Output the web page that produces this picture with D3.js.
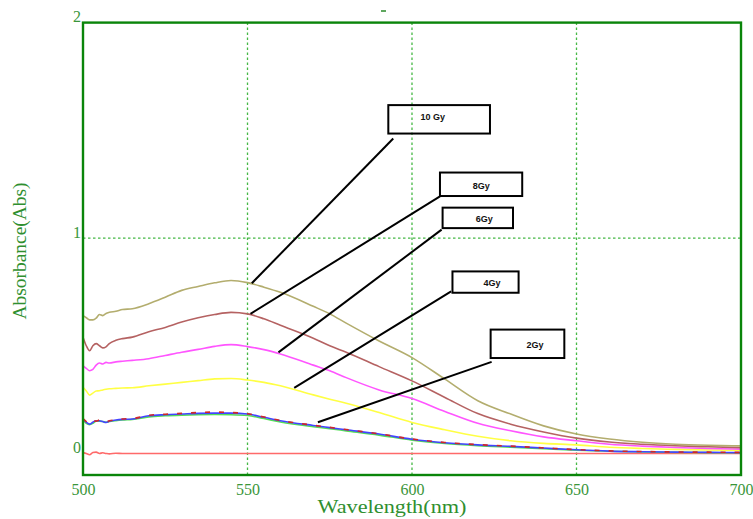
<!DOCTYPE html>
<html>
<head>
<meta charset="utf-8">
<script src="https://cdn.jsdelivr.net/npm/d3@7"></script>
<style>
  html, body { margin: 0; padding: 0; background: #ffffff; }
  svg { display: block; }
</style>
</head>
<body>
<svg id="chart" width="753" height="519"></svg>
<script>
// ---------------- DATA ----------------
const wavelengths = [500,501,502,503,504,505,506,507,508,510,512,515,520,525,530,535,540,545,550,555,560,570,575,580,590,600,610,620,630,640,650,660,670,680,690,700];

const dose10Gy = [0.640,0.630,0.620,0.620,0.628,0.645,0.640,0.650,0.655,0.660,0.668,0.672,0.695,0.725,0.757,0.775,0.792,0.803,0.793,0.772,0.748,0.683,0.648,0.605,0.522,0.445,0.345,0.245,0.183,0.128,0.090,0.067,0.052,0.043,0.038,0.035];
const dose8Gy  = [0.540,0.500,0.477,0.500,0.510,0.500,0.490,0.495,0.510,0.525,0.533,0.540,0.565,0.585,0.610,0.630,0.645,0.655,0.648,0.625,0.595,0.535,0.500,0.470,0.403,0.337,0.260,0.185,0.136,0.100,0.071,0.053,0.043,0.036,0.031,0.027];
const dose6Gy  = [0.407,0.395,0.384,0.390,0.410,0.420,0.415,0.423,0.420,0.425,0.428,0.432,0.440,0.455,0.470,0.483,0.497,0.505,0.496,0.482,0.462,0.410,0.384,0.352,0.295,0.255,0.195,0.140,0.105,0.077,0.059,0.043,0.034,0.028,0.023,0.020];
const dose4Gy  = [0.307,0.290,0.271,0.280,0.290,0.291,0.295,0.298,0.300,0.302,0.304,0.305,0.314,0.322,0.330,0.338,0.346,0.348,0.341,0.330,0.314,0.272,0.252,0.233,0.190,0.144,0.110,0.080,0.059,0.047,0.040,0.029,0.023,0.019,0.016,0.015];
const dose2GyBlue  = [0.160,0.145,0.136,0.145,0.152,0.152,0.148,0.144,0.150,0.155,0.158,0.160,0.175,0.180,0.183,0.186,0.187,0.187,0.183,0.168,0.152,0.130,0.120,0.110,0.090,0.066,0.050,0.040,0.033,0.025,0.017,0.011,0.008,0.006,0.005,0.004];
const dose2GyGreen = [0.158,0.140,0.134,0.140,0.150,0.150,0.148,0.145,0.148,0.152,0.155,0.158,0.170,0.175,0.178,0.180,0.181,0.180,0.176,0.162,0.146,0.124,0.115,0.105,0.085,0.062,0.046,0.036,0.029,0.022,0.015,0.010,0.007,0.005,0.004,0.003];
const dose2GyRed   = [0.162,0.148,0.138,0.150,0.150,0.155,0.150,0.146,0.152,0.156,0.160,0.162,0.177,0.182,0.186,0.190,0.192,0.190,0.184,0.169,0.153,0.131,0.121,0.111,0.091,0.067,0.051,0.041,0.034,0.026,0.018,0.012,0.009,0.007,0.006,0.005];
const dose0Gy  = [0.004,0.000,-0.006,0.004,0.006,0.000,0.003,0.000,-0.002,0.001,0.000,0.000,0.000,0.000,0.000,0.000,0.000,0.000,0.000,0.000,0.000,0.000,0.000,0.000,0.000,0.000,0.000,0.000,0.000,0.000,0.000,0.000,0.000,0.000,0.000,0.000];

const xTicks = [500, 550, 600, 650, 700];
const yTicks = [0, 1, 2];
const xGrid = [550, 600, 650];
const yGrid = [1];

// annotation labels: box corners and leader ends in data units
const labelTexts = ["10 Gy", "8Gy", "6Gy", "4Gy", "2Gy"];

// ---------------- LAYOUT ----------------
const svg = d3.select("#chart");
const x = d3.scaleLinear().domain([500, 700]).range([83, 741]);
const y = d3.scaleLinear().domain([-0.1, 2]).range([475, 22.6]);

const series = [
  { values: dose0Gy,      color: "#ff6a6a", dash: null },
  { values: dose2GyGreen, color: "#55e055", dash: null },
  { values: dose2GyBlue,  color: "#4444ff", dash: null },
  { values: dose2GyRed,   color: "#d02828", dash: "5,9" },
  { values: dose4Gy,      color: "#ffff44", dash: null },
  { values: dose6Gy,      color: "#ff55ff", dash: null },
  { values: dose8Gy,      color: "#b56262", dash: null },
  { values: dose10Gy,     color: "#b3ad6e", dash: null }
];

const annotations = [
  { box: [592.8, 623.7, 1.617, 1.485], text: [602.6, 1.547], from: [594.3, 1.462], to: [551.3, 0.790] },
  { box: [608.5, 633.5, 1.304, 1.195], text: [618.5, 1.228], from: [608.5, 1.193], to: [550.9, 0.648] },
  { box: [609.3, 630.7, 1.141, 1.046], text: [619.4, 1.075], from: [609.0, 1.039], to: [559.4, 0.469] },
  { box: [612.3, 632.4, 0.845, 0.746], text: [621.7, 0.778], from: [611.9, 0.752], to: [564.2, 0.304] },
  { box: [623.9, 646.3, 0.575, 0.443], text: [634.8, 0.489], from: [624.2, 0.425], to: [571.4, 0.145] }
];

const gridColor = "#45b845";
const frameColor = "#0a850a";
const labelColor = "#3a963a";

// grid
svg.append("g").selectAll("line").data(xGrid).join("line")
  .attr("x1", d => x(d)).attr("x2", d => x(d))
  .attr("y1", y(2)).attr("y2", y(-0.1))
  .attr("stroke", gridColor).attr("stroke-width", 1.3)
  .attr("stroke-dasharray", "2.5,2.5");
svg.append("g").selectAll("line").data(yGrid).join("line")
  .attr("x1", x(500)).attr("x2", x(700))
  .attr("y1", d => y(d)).attr("y2", d => y(d))
  .attr("stroke", gridColor).attr("stroke-width", 1.3)
  .attr("stroke-dasharray", "2.5,2.5");

// lines
const line = d3.line()
  .x((d, i) => x(wavelengths[i]))
  .y(d => y(d))
  .curve(d3.curveMonotoneX);

svg.append("g").selectAll("path").data(series).join("path")
  .attr("d", d => line(d.values))
  .attr("fill", "none")
  .attr("stroke", d => d.color)
  .attr("stroke-width", 1.6)
  .attr("stroke-dasharray", d => d.dash);

// frame
svg.append("rect")
  .attr("x", x(500)).attr("y", y(2))
  .attr("width", x(700) - x(500)).attr("height", y(-0.1) - y(2))
  .attr("fill", "none").attr("stroke", frameColor).attr("stroke-width", 2.4);

// axes
const xAxis = svg.append("g")
  .attr("transform", `translate(0,${y(-0.1) + 3})`)
  .call(d3.axisBottom(x).tickValues(xTicks).tickSize(0).tickFormat(d3.format("d")));
xAxis.select(".domain").remove();
xAxis.selectAll("text")
  .attr("dy", "0.71em").attr("y", 6)
  .attr("fill", labelColor)
  .style("font-family", "'Liberation Serif', 'Times New Roman', serif")
  .style("font-size", "16px");

const yAxis = svg.append("g")
  .attr("transform", `translate(${x(500) - 2},0)`)
  .call(d3.axisLeft(y).tickValues(yTicks).tickSize(0).tickFormat(d3.format("d")));
yAxis.select(".domain").remove();
yAxis.selectAll("text")
  .attr("x", 0).attr("dy", "-0.05em")
  .attr("fill", labelColor)
  .style("font-family", "'Liberation Serif', 'Times New Roman', serif")
  .style("font-size", "16px");

// axis titles
svg.append("text")
  .attr("x", 392).attr("y", 513)
  .attr("text-anchor", "middle")
  .attr("fill", "#2f8f2f")
  .attr("textLength", 149).attr("lengthAdjust", "spacingAndGlyphs")
  .style("font-family", "'Liberation Serif', 'Times New Roman', serif")
  .style("font-size", "18px")
  .text("Wavelength(nm)");

svg.append("text")
  .attr("transform", "translate(26,251) rotate(-90)")
  .attr("text-anchor", "middle")
  .attr("fill", "#2f8f2f")
  .attr("textLength", 137).attr("lengthAdjust", "spacingAndGlyphs")
  .style("font-family", "'Liberation Serif', 'Times New Roman', serif")
  .style("font-size", "18px")
  .text("Absorbance(Abs)");

// small mark above the frame
svg.append("line")
  .attr("x1", 381).attr("x2", 386).attr("y1", 11).attr("y2", 11)
  .attr("stroke", "#2a8a2a").attr("stroke-width", 1.5);

// annotations
const ann = svg.append("g");
annotations.forEach((a, i) => {
  ann.append("line")
    .attr("x1", x(a.from[0])).attr("y1", y(a.from[1]))
    .attr("x2", x(a.to[0])).attr("y2", y(a.to[1]))
    .attr("stroke", "#000").attr("stroke-width", 2);
  ann.append("rect")
    .attr("x", x(a.box[0])).attr("y", y(a.box[2]))
    .attr("width", x(a.box[1]) - x(a.box[0]))
    .attr("height", y(a.box[3]) - y(a.box[2]))
    .attr("fill", "none").attr("stroke", "#000").attr("stroke-width", 2);
  ann.append("text")
    .attr("x", x(a.text[0])).attr("y", y(a.text[1]))
    .attr("fill", "#111")
    .style("font-family", "'Liberation Sans', Arial, sans-serif")
    .style("font-size", "9px").style("font-weight", "bold")
    .text(labelTexts[i]);
});
</script>
</body>
</html>
